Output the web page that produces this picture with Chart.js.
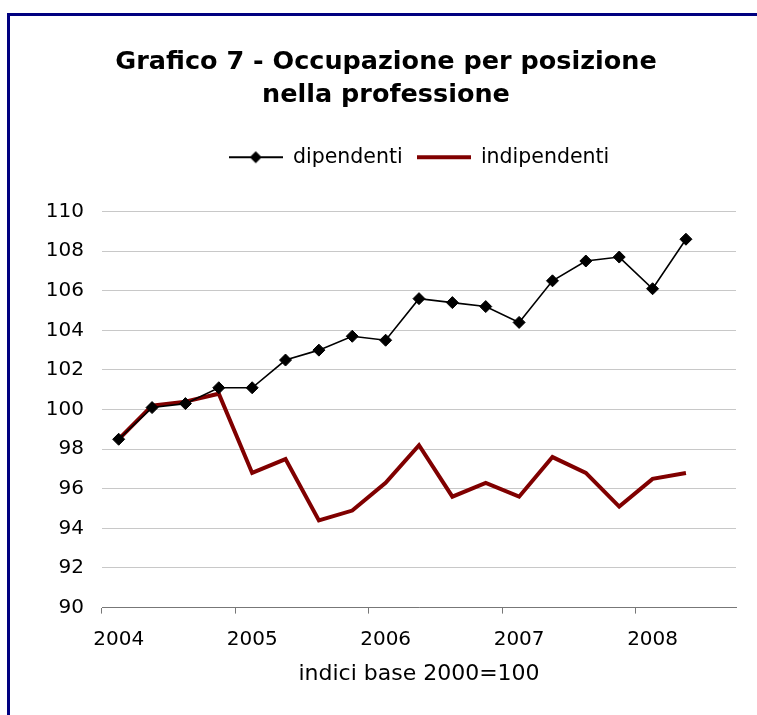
<!DOCTYPE html>
<html>
<head>
<meta charset="utf-8">
<script src="https://cdn.jsdelivr.net/npm/chart.js@4/dist/chart.umd.min.js"></script>
<style>
  html, body { margin: 0; padding: 0; background: #fff; overflow: hidden; }
  #wrap { position: relative; width: 757px; height: 715px; }
  #frame {
    position: absolute; left: 7px; top: 13px; width: 900px; height: 900px;
    border-left: 3px solid #000080; border-top: 3px solid #000080;
    pointer-events: none;
  }
  canvas { position: absolute; left: 0; top: 0; }
</style>
</head>
<body>
<div id="wrap">
  <canvas id="chart" width="757" height="715"></canvas>
  <div id="frame"></div>
</div>
<script>
// quarters 2004 Q1 .. 2008 Q3 (last one has no data yet)
const quarters = [
  'I 2004', 'II 2004', 'III 2004', 'IV 2004',
  'I 2005', 'II 2005', 'III 2005', 'IV 2005',
  'I 2006', 'II 2006', 'III 2006', 'IV 2006',
  'I 2007', 'II 2007', 'III 2007', 'IV 2007',
  'I 2008', 'II 2008', 'III 2008'
];
const yearLabels = ['2004', '2005', '2006', '2007', '2008'];

const dipendenti = [98.5, 100.1, 100.3, 101.1, 101.1, 102.5, 103.0, 103.7, 103.5,
  105.6, 105.4, 105.2, 104.4, 106.5, 107.5, 107.7, 106.1, 108.6];
const indipendenti = [98.5, 100.2, 100.4, 100.8, 96.8, 97.5, 94.4, 94.9, 96.3,
  98.2, 95.6, 96.3, 95.6, 97.6, 96.8, 95.1, 96.5, 96.8];

const titleLines = ['Grafico 7 - Occupazione per posizione', 'nella professione'];
const axisTitle = 'indici base 2000=100';

const FONT = "'DejaVu Sans', Verdana, sans-serif";

// legend swatch: line with (optional) diamond in the middle, like the Excel legend
function makeSwatch(color, width, diamond) {
  const c = document.createElement('canvas');
  c.width = 54; c.height = 14;
  const g = c.getContext('2d');
  g.strokeStyle = color;
  g.lineWidth = width;
  g.beginPath();
  g.moveTo(0, 7); g.lineTo(54, 7);
  g.stroke();
  if (diamond) {
    g.fillStyle = color;
    g.beginPath();
    g.moveTo(27, 1); g.lineTo(33, 7); g.lineTo(27, 13); g.lineTo(21, 7);
    g.closePath();
    g.fill();
  }
  return c;
}
const swatches = [makeSwatch('#000', 2, true), makeSwatch('#800000', 4, false)];

new Chart(document.getElementById('chart'), {
  type: 'line',
  data: {
    labels: quarters,
    datasets: [
      {
        label: 'dipendenti',
        data: dipendenti,
        borderColor: '#000',
        backgroundColor: '#000',
        borderWidth: 1.6,
        pointStyle: 'rectRot',
        pointRadius: 6,
        pointBorderWidth: 1,
        pointBackgroundColor: '#000',
        tension: 0
      },
      {
        label: 'indipendenti',
        data: indipendenti,
        borderColor: '#800000',
        backgroundColor: '#800000',
        borderWidth: 4,
        pointRadius: 0,
        tension: 0
      }
    ]
  },
  options: {
    responsive: false,
    animation: false,
    devicePixelRatio: 1,
    layout: { padding: { left: 36, right: 21, top: 0, bottom: 28 } },
    plugins: {
      title: {
        display: true,
        text: titleLines,
        color: '#000',
        font: { family: FONT, size: 25.5, weight: 'bold', lineHeight: '33px' },
        padding: { top: 46, bottom: 21 }
      },
      legend: {
        display: true,
        position: 'top',
        fullSize: false,
        labels: {
          color: '#000',
          font: { family: FONT, size: 20.5 },
          usePointStyle: true,
          pointStyleWidth: 54,
          padding: 14,
          generateLabels: (chart) =>
            Chart.defaults.plugins.legend.labels.generateLabels(chart)
              .map((item, i) => ({ ...item, pointStyle: swatches[i] }))
        }
      },
      // spacer between legend and plot
      subtitle: {
        display: true,
        text: ' ',
        weight: 500,
        font: { size: 1, lineHeight: '34px' },
        padding: 0
      },
      tooltip: { enabled: false }
    },
    scales: {
      x: {
        type: 'category',
        offset: true,
        border: { display: true, color: '#777', width: 1 },
        grid: {
          offset: true,
          drawOnChartArea: false,
          drawTicks: true,
          tickLength: 6,
          color: (ctx) => (ctx.index % 4 === 0 ? '#777' : 'rgba(0,0,0,0)')
        },
        ticks: {
          autoSkip: false,
          maxRotation: 0,
          minRotation: 0,
          padding: 14,
          color: '#000',
          font: { family: FONT, size: 20 },
          callback: (v, i) => (i % 4 === 0 ? yearLabels[i / 4] : '')
        },
        title: {
          display: true,
          text: axisTitle,
          color: '#000',
          font: { family: FONT, size: 22 },
          padding: { top: -5, bottom: 0 }
        }
      },
      y: {
        min: 90,
        max: 110,
        border: { display: false },
        grid: { color: '#c8c8c8', lineWidth: 1, drawTicks: false },
        ticks: {
          stepSize: 2,
          padding: 18,
          color: '#000',
          font: { family: FONT, size: 20 }
        },
        afterFit: (scale) => { scale.width = 66; }
      }
    }
  }
});
</script>
</body>
</html>
